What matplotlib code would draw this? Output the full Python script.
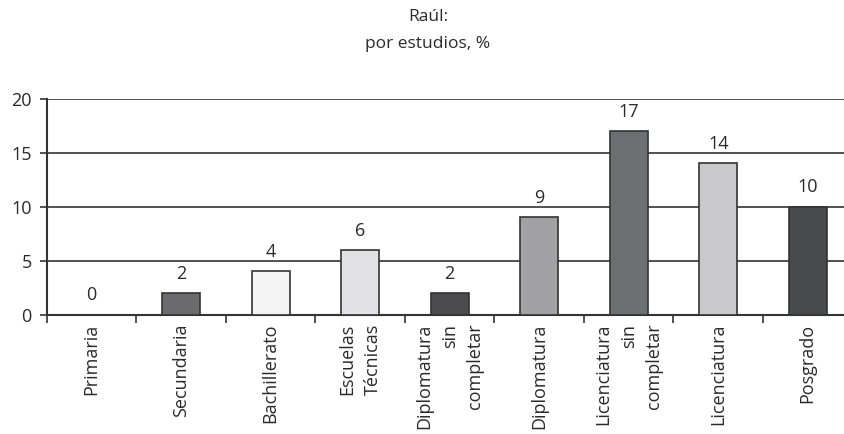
import matplotlib
matplotlib.use("Agg")
import matplotlib.pyplot as plt
import numpy as np

categories = ["Primaria", "Secundaria", "Bachillerato", "Escuelas\nTécnicas",
              "Diplomatura\nsin\ncompletar", "Diplomatura",
              "Licenciatura\nsin\ncompletar", "Licenciatura", "Posgrado"]
values = [0, 2, 4, 6, 2, 9, 17, 14, 10]
colors = ["#ffffff", "#6b6b6d", "#f3f3f3", "#e1e1e3", "#4b4b4d",
          "#a2a2a5", "#6e6f72", "#c9c9cb", "#48494b"]
yticks = [0, 5, 10, 15, 20]
title_lines = ["Raúl:", "por estudios, %"]

plt.rcParams['font.family'] = ['Open Sans', 'DejaVu Sans']
txt = "#2a2a2a"
line = "#333333"

fig = plt.figure(figsize=(8.45, 4.35), dpi=100)
ax = fig.add_axes([47/845, 1-315.5/435, 805.5/845, 216/435])

x = np.arange(len(categories))
ax.bar(x, values, width=0.425, color=colors, edgecolor=line, linewidth=1.2, zorder=3)
for xi, v in zip(x, values):
    ax.annotate(str(v), (xi, v), xytext=(0, 8), textcoords="offset points",
                ha="center", va="bottom", fontsize=13, color=txt)

ax.set_xlim(-0.5, len(categories) - 0.5)
ax.set_ylim(0, 20)
ax.set_yticks(yticks)
ax.set_yticklabels([str(t) for t in yticks], fontsize=13, color=txt)
ax.yaxis.grid(True, color=line, linewidth=1.2, zorder=0)
ax.set_axisbelow(True)
ax.tick_params(axis="y", length=5, width=1.2, color=line, pad=6)

ax.set_xticks(x - 0.5, minor=False)
ax.set_xticklabels([])
ax.tick_params(axis="x", which="major", length=6, width=1.2, color=line, direction="out")
ax.set_xticks(x, minor=True)
ax.set_xticklabels(categories, minor=True, rotation=90, fontsize=13, color=txt,
                   ha="center", va="top", multialignment="right", linespacing=1.5)
ax.tick_params(axis="x", which="minor", length=0, pad=6)

for s in ["top", "right"]:
    ax.spines[s].set_visible(False)
for s in ["left", "bottom"]:
    ax.spines[s].set_color(line)
    ax.spines[s].set_linewidth(1.5)

fig.text(428/845, 1-17/435, title_lines[0], ha="center", va="center", fontsize=12.5, color=txt)
fig.text(428/845, 1-44/435, title_lines[1], ha="center", va="center", fontsize=12.5, color=txt)

fig.savefig("out.png", dpi=100)
